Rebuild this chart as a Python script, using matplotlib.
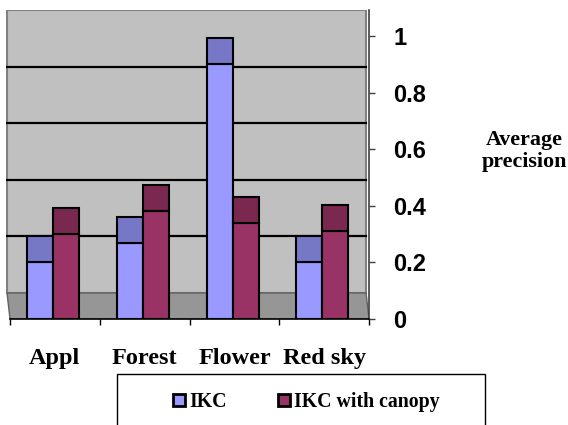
import matplotlib.pyplot as plt
from matplotlib.patches import Rectangle, Polygon

# average precision per image category
categories = ['Appl', 'Forest', 'Flower', 'Red sky']
ikc = [0.20, 0.27, 0.90, 0.20]
ikc_canopy = [0.30, 0.38, 0.34, 0.31]
series_names = ['IKC', 'IKC with canopy']
yticks = [0, 0.2, 0.4, 0.6, 0.8, 1.0]
ytick_labels = ['0', '0.2', '0.4', '0.6', '0.8', '1']

depth = 0.092          # fake 3D depth of the floor / bar tops
shift = 0.033          # back wall sits a little to the left
front_col = ['#9999FF', '#993366']
top_col = ['#7777C8', '#7A2850']

fig = plt.figure(figsize=(5.68, 4.25), dpi=100)
ax = fig.add_axes([0.0113, 0.2494, 0.6384, 0.7271])
ax.set_xlim(-0.54, 3.5)
ax.set_ylim(0, 1.0 + depth)

# back wall, gridlines and floor
ax.add_patch(Rectangle((-0.5 - shift, depth), 4.0, 1.0, facecolor='#C0C0C0',
                       edgecolor='#808080', lw=1.5, zorder=0))
for v in yticks[1:-1]:
    ax.plot([-0.5 - shift, 3.5 - shift], [v + depth, v + depth], color='black', lw=1.6, zorder=1)
ax.add_patch(Polygon([(-0.5, 0), (3.5, 0), (3.5 - shift, depth), (-0.5 - shift, depth)],
                     closed=True, facecolor='#969696', edgecolor='#606060', lw=1.0, zorder=1))

x = list(range(len(categories)))
w = 0.29
for vals, off, fc, tc in [(ikc, -0.165, front_col[0], top_col[0]),
                          (ikc_canopy, 0.125, front_col[1], top_col[1])]:
    pos = [i + off for i in x]
    ax.bar(pos, vals, width=w, color=fc, edgecolor='black', lw=1.5, zorder=3)
    ax.bar(pos, [depth] * len(vals), bottom=vals, width=w, color=tc,
           edgecolor='black', lw=1.5, zorder=3)

for s in ['top', 'left']:
    ax.spines[s].set_visible(False)
ax.spines['bottom'].set_bounds(-0.5, 3.5)
ax.spines['bottom'].set_linewidth(1.2)
ax.spines['right'].set_color('#404040')
ax.spines['right'].set_linewidth(1.2)

ax.set_xticks([-0.5, 0.5, 1.5, 2.5, 3.5])
ax.set_xticklabels([])
ax.tick_params(axis='x', which='major', direction='out', length=4, width=1)
ax.set_xticks(x, minor=True)
ax.set_xticklabels(categories, minor=True, family='Liberation Serif',
                   fontweight='bold', fontsize=17.5)
ax.tick_params(axis='x', which='minor', length=0, pad=21)

ax.yaxis.tick_right()
ax.set_yticks(yticks)
ax.set_yticklabels(ytick_labels, family='Liberation Sans', fontweight='bold', fontsize=17)
ax.tick_params(axis='y', direction='out', length=4.5, width=1, color='#404040', pad=13)

fig.text(524 / 568, 1 - 151 / 425, 'Average\nprecision', ha='center', va='center',
         family='Liberation Serif', fontweight='bold', fontsize=15.8, linespacing=1.15)

# legend box runs off the bottom edge
fig.patches.append(Rectangle((117 / 568, -0.05), 368 / 568, 0.05 + 51 / 425,
                             transform=fig.transFigure, facecolor='none',
                             edgecolor='black', lw=1.0))
handles = [Rectangle((0, 0), 1, 1, facecolor=c, edgecolor='black', lw=2) for c in front_col]
fig.legend(handles, series_names, loc='center left', bbox_to_anchor=(163 / 568, 1 - 402 / 425),
           ncol=2, frameon=False, borderpad=0, handlelength=0.6, handleheight=0.6,
           handletextpad=0.2, columnspacing=2.6,
           prop={'family': 'Liberation Serif', 'weight': 'bold', 'size': 14.3})

fig.savefig('out.png', dpi=100)
